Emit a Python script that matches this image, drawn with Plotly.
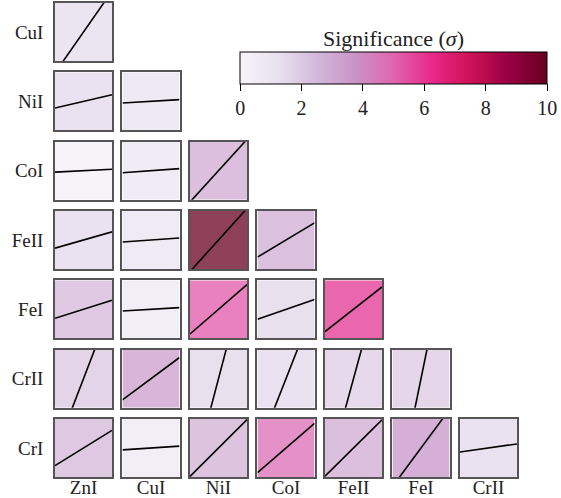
import plotly.graph_objects as go
from plotly.subplots import make_subplots

# rows (top to bottom) and columns (left to right) of the triangle
row_ions = ["CuI", "NiI", "CoI", "FeII", "FeI", "CrII", "CrI"]
col_ions = ["ZnI", "CuI", "NiI", "CoI", "FeII", "FeI", "CrII"]

# significance per panel, row by row
significance = [
    [1.4],
    [1.5, 1.1],
    [0.3, 0.9, 3.0],
    [1.5, 1.0, 10.0, 2.9],
    [2.6, 0.8, 5.3, 1.6, 6.0],
    [2.1, 3.4, 1.6, 1.5, 1.9, 2.0],
    [2.6, 0.8, 2.8, 4.8, 3.0, 3.7, 1.5],
]

# slope of the fitted line in each panel
slopes = [
    [1.41],
    [0.23, 0.06],
    [0.05, 0.07, 1.08],
    [0.28, 0.07, 1.09, 0.59],
    [0.31, 0.06, 0.85, 0.34, 0.77],
    [2.56, 0.73, 3.74, 2.5, 3.6, 4.8],
    [0.61, 0.064, 0.98, 0.85, 0.97, 1.33, 0.14],
]

n = len(row_ions)
fig = make_subplots(n, n, horizontal_spacing=0.0227, vertical_spacing=0.0239)

serif = "Liberation Serif"
label_font = dict(family=serif, size=19, color="#222")

for i in range(n):
    for j in range(n):
        r, c = i + 1, j + 1
        if j > i:
            fig.update_xaxes(visible=False, row=r, col=c)
            fig.update_yaxes(visible=False, row=r, col=c)
            continue
        fig.add_trace(go.Heatmap(x=[0], y=[0], z=[[significance[i][j]]],
                                 coloraxis="coloraxis", opacity=0.75,
                                 hoverinfo="skip"),
                      row=r, col=c)
        s = slopes[i][j]
        fig.add_trace(go.Scatter(x=[-0.5, 0.5], y=[-0.5 * s, 0.5 * s],
                                 mode="lines",
                                 line=dict(color="black", width=1.6)),
                      row=r, col=c)
        xa = dict(range=[-0.5, 0.5], showgrid=False, zeroline=False,
                  showline=True, mirror=True, linecolor="#555555",
                  linewidth=1.5, ticks="", fixedrange=True, automargin=False)
        ya = dict(xa)
        if i == n - 1:
            xa.update(tickvals=[0], ticktext=[col_ions[j]],
                      tickfont=label_font, ticklabelstandoff=-8)
        else:
            xa.update(showticklabels=False)
        if j == 0:
            ya.update(tickvals=[0], ticktext=[row_ions[i]],
                      tickfont=label_font, ticklabelstandoff=6)
        else:
            ya.update(showticklabels=False)
        fig.update_xaxes(xa, row=r, col=c)
        fig.update_yaxes(ya, row=r, col=c)

fig.update_layout(
    width=561, height=498,
    margin=dict(l=55, r=44, t=3, b=21, autoexpand=False),
    paper_bgcolor="white", plot_bgcolor="white",
    showlegend=False,
    coloraxis=dict(
        colorscale="PuRd", cmin=0, cmax=10,
        colorbar=dict(
            orientation="h", x=0.733, xanchor="center",
            y=0.8966, yanchor="top", ypad=0,
            lenmode="pixels", len=327, thickness=32,
            outlinewidth=1, outlinecolor="black",
            ticks="outside", ticklen=7, tickcolor="black",
            tickvals=[0, 2, 4, 6, 8, 10],
            tickfont=dict(family=serif, size=20, color="#222"),
        ),
    ),
)

fig.add_annotation(text="Significance (<i>σ</i>)", xref="paper", yref="paper",
                   x=0.733, y=0.926, xanchor="center", yanchor="middle",
                   showarrow=False,
                   font=dict(family=serif, size=22, color="#222"))

# drop the page's default body margin so the figure sits at the window corner
fig.write_html("out.html", config={"displayModeBar": False},
               post_script="document.body.style.margin='0px';")
